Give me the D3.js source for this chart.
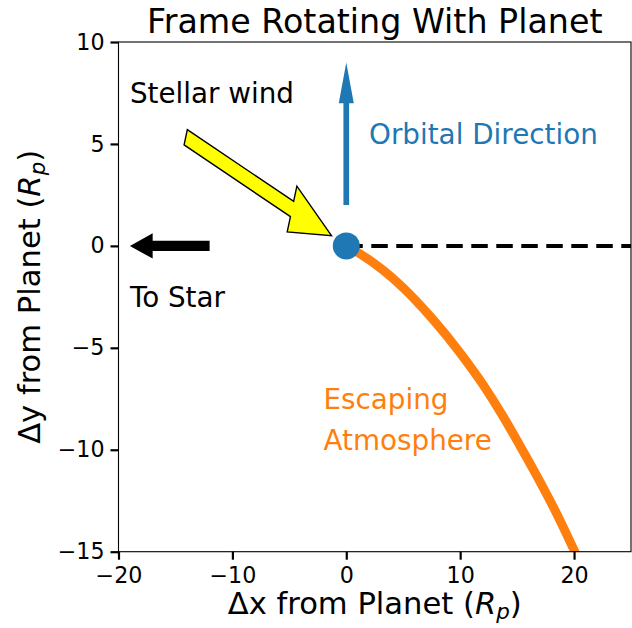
<!DOCTYPE html>
<html>
<head>
<meta charset="utf-8">
<script src="https://cdn.jsdelivr.net/npm/d3@7"></script>
<style>
  html, body { margin: 0; padding: 0; background: #fff; }
  svg { display: block; font-family: "DejaVu Sans", sans-serif; }
</style>
</head>
<body>
<svg id="chart" width="632" height="628"></svg>
<script>
// Axis extents and tick values
const xDomain = [-20, 25];
const yDomain = [-15, 10];
const xTicks = [-20, -10, 0, 10, 20];
const yTicks = [-15, -10, -5, 0, 5, 10];

// Trajectory of the escaping atmosphere in the rotating frame
const escapeX = [0, 1.3, 4.9, 7.6, 10.0, 12.0, 13.7, 15.2, 16.8, 18.4, 19.9, 20.4];
const escapeY = [0, -0.42, -2.0, -3.6, -5.25, -6.8, -8.3, -9.75, -11.35, -13.05, -14.8, -15.4];

// Planet position and the star-direction reference line
const planet = [0, 0];
const starLineX = [0, 25];
const starLineY = [0, 0];

// Arrows: start, end (tip), shaft width, head width, head length (data units)
const windArrow  = { x0: -14.1, y0: 5.33, x1: -1.3, y1: 0.5, width: 0.8, headWidth: 2.4, headLength: 3.7 };
const orbitArrow = { x0: 0, y0: 2, x1: 0, y1: 9, width: 0.5, headWidth: 1.32, headLength: 2 };
const starArrow  = { x0: -12, y0: 0, x1: -19, y1: 0, width: 0.5, headWidth: 1.25, headLength: 2 };

// Annotation labels
const labels = [
  { text: "Stellar wind", x: -19, y: 7, color: "#000000" },
  { text: "Orbital Direction", x: 2, y: 5, color: "#1f77b4" },
  { text: "To Star", x: -19, y: -3, color: "#000000" },
  { text: "Escaping", x: -2, y: -8, color: "#ff7f0e" },
  { text: "Atmosphere", x: -2, y: -10, color: "#ff7f0e" }
];

const margin = { left: 118.5, right: 631, top: 42, bottom: 551.7 };
const svg = d3.select("#chart");

const x = d3.scaleLinear().domain(xDomain).range([margin.left, margin.right]);
const y = d3.scaleLinear().domain(yDomain).range([margin.bottom, margin.top]);

svg.append("defs").append("clipPath").attr("id", "plot-clip")
  .append("rect")
  .attr("x", margin.left).attr("y", margin.top)
  .attr("width", margin.right - margin.left)
  .attr("height", margin.bottom - margin.top);

const plot = svg.append("g").attr("clip-path", "url(#plot-clip)");

// Escaping atmosphere trajectory
const trail = escapeX.map((v, i) => [v, escapeY[i]]);
plot.append("path")
  .datum(trail)
  .attr("d", d3.line().x(d => x(d[0])).y(d => y(d[1])).curve(d3.curveMonotoneX))
  .attr("fill", "none")
  .attr("stroke", "#ff7f0e")
  .attr("stroke-width", 9);

// Dashed line toward the anti-stellar direction
plot.append("path")
  .datum(starLineX.map((v, i) => [v, starLineY[i]]))
  .attr("d", d3.line().x(d => x(d[0])).y(d => y(d[1])))
  .attr("fill", "none")
  .attr("stroke", "#000")
  .attr("stroke-width", 4)
  .attr("stroke-dasharray", "16.5 8.5");

// Arrow polygon built in data space (like a FancyArrow), then mapped through the scales
function arrowPoints(a) {
  const dx = a.x1 - a.x0, dy = a.y1 - a.y0;
  const len = Math.hypot(dx, dy);
  const ux = dx / len, uy = dy / len;
  const px = -uy, py = ux;
  const hw = a.width / 2, hh = a.headWidth / 2;
  const bx = a.x1 - ux * a.headLength, by = a.y1 - uy * a.headLength;
  const pts = [
    [a.x0 + px * hw, a.y0 + py * hw],
    [bx + px * hw, by + py * hw],
    [bx + px * hh, by + py * hh],
    [a.x1, a.y1],
    [bx - px * hh, by - py * hh],
    [bx - px * hw, by - py * hw],
    [a.x0 - px * hw, a.y0 - py * hw]
  ];
  return pts.map(p => [x(p[0]), y(p[1])].join(",")).join(" ");
}

plot.append("polygon")
  .attr("points", arrowPoints(windArrow))
  .attr("fill", "#ffff00")
  .attr("stroke", "#000")
  .attr("stroke-width", 1.4)
  .attr("stroke-linejoin", "miter");

plot.append("polygon")
  .attr("points", arrowPoints(orbitArrow))
  .attr("fill", "#1f77b4");

plot.append("polygon")
  .attr("points", arrowPoints(starArrow))
  .attr("fill", "#000");

// Planet
plot.append("circle")
  .attr("cx", x(planet[0]))
  .attr("cy", y(planet[1]))
  .attr("r", 13.5)
  .attr("fill", "#1f77b4");

// Text annotations
svg.append("g").selectAll("text")
  .data(labels)
  .join("text")
  .attr("x", d => x(d.x))
  .attr("y", d => y(d.y))
  .attr("fill", d => d.color)
  .attr("font-size", 27.8)
  .text(d => d.text);

// Axes
const xAxis = d3.axisBottom(x).tickValues(xTicks).tickSize(8).tickPadding(7);
const yAxis = d3.axisLeft(y).tickValues(yTicks).tickSize(8).tickPadding(6);

const gx = svg.append("g").attr("transform", `translate(0,${margin.bottom})`).call(xAxis);
const gy = svg.append("g").attr("transform", `translate(${margin.left},0)`).call(yAxis);

[gx, gy].forEach(g => {
  g.select(".domain").remove();
  g.selectAll(".tick line").attr("stroke", "#000").attr("stroke-width", 2.2);
  g.selectAll(".tick text").attr("fill", "#000").attr("font-size", 22.2)
    .attr("font-family", "DejaVu Sans");
});
gx.selectAll(".tick text").attr("dy", "0.72em");

// Frame
svg.append("rect")
  .attr("x", margin.left).attr("y", margin.top)
  .attr("width", margin.right - margin.left)
  .attr("height", margin.bottom - margin.top)
  .attr("fill", "none")
  .attr("stroke", "#000")
  .attr("stroke-width", 1.1);

// Title
svg.append("text")
  .attr("x", (margin.left + margin.right) / 2)
  .attr("y", 33)
  .attr("text-anchor", "middle")
  .attr("font-size", 33.3)
  .text("Frame Rotating With Planet");

// Axis labels with italic R and subscript p
function axisLabel(sel, prefix) {
  sel.append("tspan").text(prefix + " (");
  sel.append("tspan").attr("font-style", "italic").text("R");
  sel.append("tspan").attr("font-style", "italic").attr("font-size", "70%").attr("dy", "0.25em").text("p");
  sel.append("tspan").attr("dy", "-0.175em").text(")");
}

const xl = svg.append("text")
  .attr("x", (margin.left + margin.right) / 2)
  .attr("y", 614)
  .attr("text-anchor", "middle")
  .attr("font-size", 30.6);
axisLabel(xl, "Δx from Planet");

const yl = svg.append("text")
  .attr("transform", `translate(40,${(margin.top + margin.bottom) / 2}) rotate(-90)`)
  .attr("text-anchor", "middle")
  .attr("font-size", 30.6);
axisLabel(yl, "Δy from Planet");
</script>
</body>
</html>
